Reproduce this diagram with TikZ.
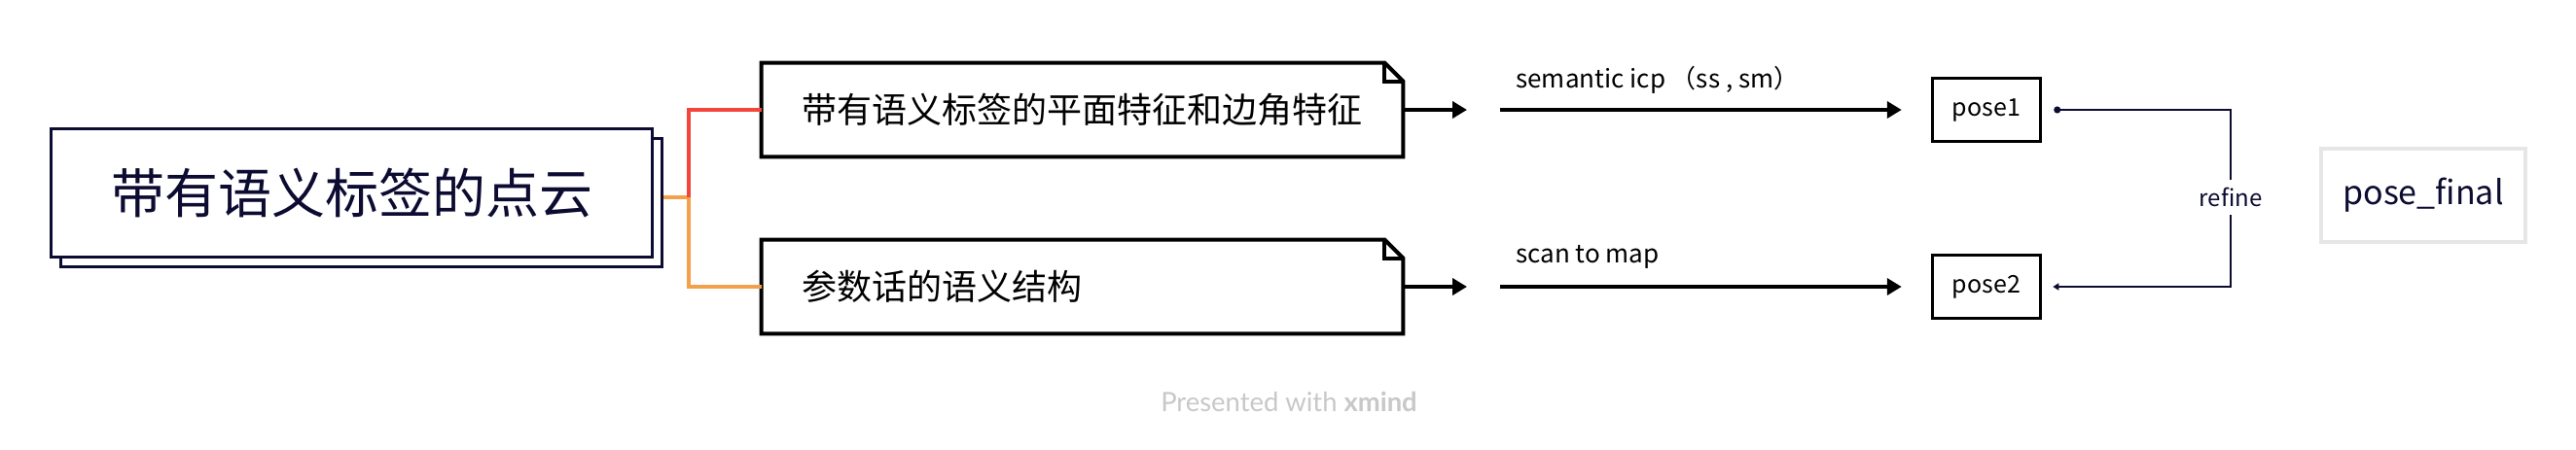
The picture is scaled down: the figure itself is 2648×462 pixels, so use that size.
\documentclass[tikz,border=0pt]{standalone}
\usepackage{fontspec}
\setmainfont{Noto Sans CJK SC}
\newfontfamily\latofont{Lato}
\usetikzlibrary{arrows.meta,calc}
\definecolor{navy}{HTML}{0C0B31}
\definecolor{bred}{HTML}{F2463A}
\definecolor{borange}{HTML}{F4A04B}
\definecolor{lgray}{HTML}{E6E6E6}
\definecolor{wgray}{HTML}{C8C8C8}
\tikzset{
  mainbox/.style={draw=navy, line width=1.5pt, fill=white, minimum width=309pt, minimum height=66pt, inner sep=0pt},
  subbox/.style={minimum width=329.5pt, minimum height=48pt, inner xsep=20.5pt, inner ysep=0pt, text width=288.5pt, align=left, font=\fontsize{18}{20}\selectfont},
  noteline/.style={draw=black, line width=2pt, line join=miter},
  posebox/.style={draw=black, line width=1.75pt, minimum width=55.5pt, minimum height=32.5pt, inner sep=0pt, font=\fontsize{12.5}{14}\selectfont},
  thickarrow/.style={draw=black, line width=2pt, -{Triangle[length=7.5pt,width=8.5pt]}},
  branch/.style={line width=2pt},
  lbl/.style={font=\fontsize{13}{15}\selectfont, inner sep=0pt},
}
\begin{document}
\begin{tikzpicture}[x=0.5pt,y=-0.5pt]
\useasboundingbox[fill=white] (0,0) rectangle (2648,462);
% main topic
\node[mainbox] (mainsh) at (371.5,208.5) {};
\node[mainbox, text=navy, font=\fontsize{27.5}{30}\selectfont] (main) at (361.5,198.5) {带有语义标签的点云};
% sub topics
\node[subbox] (b1) at (1112.5,113) {带有语义标签的平面特征和边角特征};
\node[subbox] (b2) at (1112.5,295) {参数话的语义结构};
\foreach \b in {b1,b2}{
  \draw[noteline] (\b.north west) -- ($(\b.north east)+(-19,0)$) -- ($(\b.north east)+(0,19)$) -- (\b.south east) -- (\b.south west) -- cycle;
  \draw[line width=2pt, line join=miter] ($(\b.north east)+(-19,0)$) |- ($(\b.north east)+(0,19)$);
}
% branches
\coordinate (fork) at (708,203);
\draw[branch, borange] (mainsh.east |- fork) -- (fork) |- (b2.west);
\draw[branch, bred] (fork) |- (b1.west);
% poses
\node[posebox] (p1) at (2042,113) {pose1};
\node[posebox] (p2) at (2042,295) {pose2};
\node[draw=lgray, line width=2pt, minimum width=105pt, minimum height=48pt, inner sep=0pt, text=navy, font=\fontsize{17}{20}\selectfont] (pf) at (2491,201) {pose\_final};
% arrows
\coordinate (t1) at (1508,113);
\coordinate (t2) at (1508,295);
\coordinate (s1) at (1542,113);
\coordinate (s2) at (1542,295);
\draw[thickarrow] (b1.east) -- (t1);
\draw[thickarrow] (b2.east) -- (t2);
\draw[thickarrow, shorten >=15pt] (s1) -- (p1.west);
\draw[thickarrow, shorten >=15pt] (s2) -- (p2.west);
\node[lbl, anchor=west] (l1) at (1558,82) {semantic icp （ss , sm）};
\node[lbl, anchor=west] (l2) at (1558,264) {scan to map};
% refine
\coordinate (rv) at (2293,113);
\draw[navy, line width=1pt, {Circle[length=3.5pt]}-{Triangle[length=3pt,width=3.5pt]}, shorten <=6pt, shorten >=5.5pt] (p1.east) -- (p1.east -| rv) |- (p2.east);
\node[lbl, font=\fontsize{12}{14}\selectfont, fill=white, inner ysep=4pt, inner xsep=1pt, text=navy] (rl) at (2293,203) {refine};
% footer
\node[text=wgray, font=\latofont\fontsize{13.7}{15}\selectfont] (ft) at (1325,413) {Presented with \textbf{xmind}};
\end{tikzpicture}
\end{document}
